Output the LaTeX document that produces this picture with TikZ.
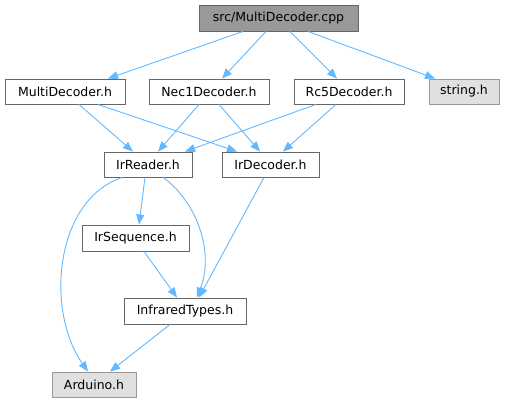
\documentclass[tikz,border=0pt]{standalone}
\usepackage{fontspec}
\setmainfont{DejaVu Sans}
\usetikzlibrary{arrows.meta}
\definecolor{edgeblue}{HTML}{63B8FF}
\definecolor{topfill}{HTML}{999999}
\definecolor{bordergray}{HTML}{666666}
\definecolor{extfill}{HTML}{E0E0E0}
\definecolor{extborder}{HTML}{999999}
\tikzset{
  box/.style={draw=bordergray, fill=white, line width=0.9pt, minimum height=25pt, inner sep=0pt, font=\fontsize{12.5}{15}\selectfont, text=black},
  topbox/.style={box, fill=topfill},
  extbox/.style={box, fill=extfill, draw=extborder},
  dep/.style={draw=edgeblue, line width=0.9pt, -{Triangle[length=10pt,width=8pt]}},
}
\begin{document}
\begin{tikzpicture}[x=1pt,y=-1pt]
\useasboundingbox (0,0) rectangle (505,403);
\node[topbox, minimum width=159pt, minimum height=26pt] (cpp) at (278.5,18) {src/MultiDecoder.cpp};
\node[box, minimum width=120pt] (md) at (65,91.5) {MultiDecoder.h};
\node[box, minimum width=120pt] (nec) at (209,91.5) {Nec1Decoder.h};
\node[box, minimum width=110pt] (rc5) at (349,91.5) {Rc5Decoder.h};
\node[extbox, minimum width=70pt] (str) at (464,91.5) {string.h};
\node[box, minimum width=88pt] (irr) at (148,164.5) {IrReader.h};
\node[box, minimum width=97pt] (ird) at (270.5,164.5) {IrDecoder.h};
\node[box, minimum width=107pt, minimum height=26pt] (irs) at (135.5,238) {IrSequence.h};
\node[box, minimum width=122pt, minimum height=26pt] (it) at (185,311) {InfraredTypes.h};
\node[extbox, minimum width=84pt] (ard) at (94,384.5) {Arduino.h};

\draw[dep] ([xshift=-35.5pt]cpp.south) -- ([xshift=43pt]md.north);
\draw[dep] ([xshift=-12.5pt]cpp.south) -- ([xshift=13pt]nec.north);
\draw[dep] ([xshift=11.5pt]cpp.south) -- ([xshift=-12pt]rc5.north);
\draw[dep] ([xshift=29.5pt]cpp.south) -- ([xshift=-29pt]str.north);

\draw[dep] ([xshift=14pt]md.south) -- ([xshift=-15pt]irr.north);
\draw[dep] ([xshift=33pt]md.south) -- ([xshift=-33.5pt]ird.north);
\draw[dep] ([xshift=-10pt]nec.south) -- ([xshift=10pt]irr.north);
\draw[dep] ([xshift=10pt]nec.south) -- ([xshift=-10.5pt]ird.north);
\draw[dep] ([xshift=-33pt]rc5.south) -- ([xshift=37pt]irr.north);
\draw[dep] ([xshift=-13pt]rc5.south) -- ([xshift=12.5pt]ird.north);

\draw[dep] ([xshift=-3pt]irr.south) -- ([xshift=3.5pt]irs.north);
\draw[dep] ([xshift=15pt]irr.south) .. controls (195,200) and (215,250) .. ([xshift=12pt]it.north);
\draw[dep] ([xshift=-26pt]irr.south) .. controls (55,200) and (45,310) .. ([xshift=-6pt]ard.north);
\draw[dep] ([xshift=-6.5pt]ird.south) -- ([xshift=14pt]it.north);
\draw[dep] ([xshift=8.5pt]irs.south) -- ([xshift=-8pt]it.north);
\draw[dep] ([xshift=-15pt]it.south) -- ([xshift=16pt]ard.north);
\end{tikzpicture}
\end{document}
